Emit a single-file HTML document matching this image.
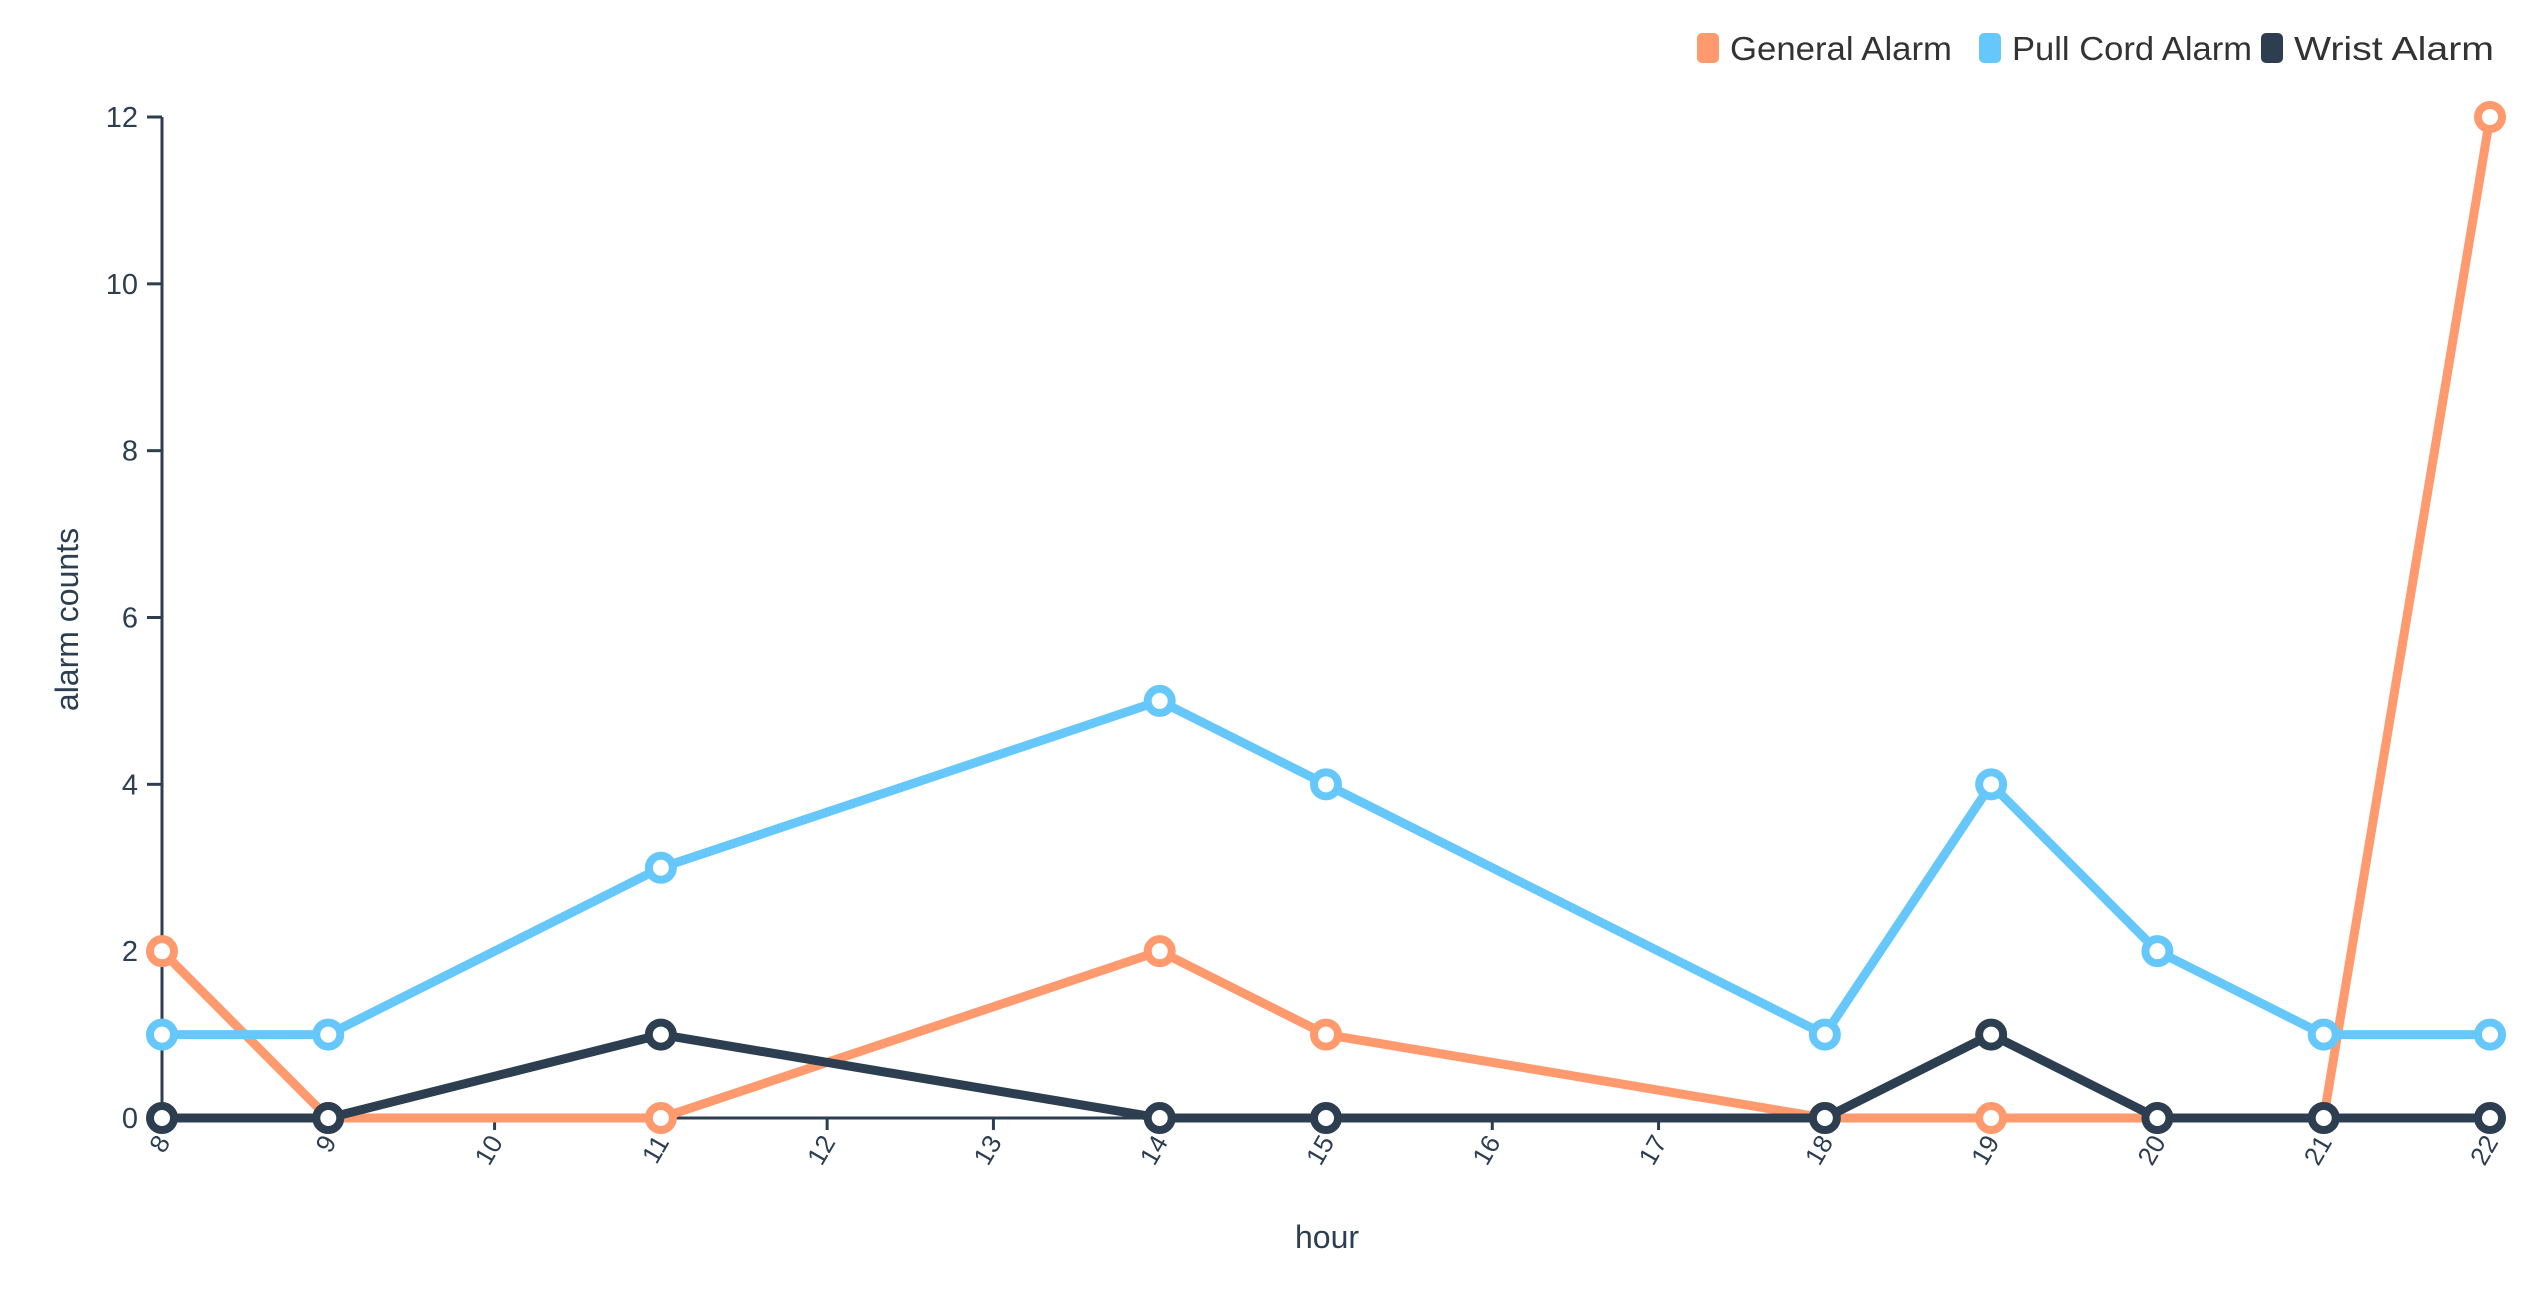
<!DOCTYPE html>
<html><head><meta charset="utf-8"><style>
html,body{margin:0;padding:0;background:#fff;}
svg{display:block;font-family:"Liberation Sans",sans-serif;}
</style></head><body>
<svg id="chart" width="2540" height="1300">
<g id="legend"></g>
<g id="axes"></g>
<g id="series"></g>
</svg>
<script>
const hours = [8, 9, 11, 14, 15, 18, 19, 20, 21, 22];
const generalAlarm = [2, 0, 0, 2, 1, 0, 0, 0, 0, 12];
const pullCordAlarm = [1, 1, 3, 5, 4, 1, 4, 2, 1, 1];
const wristAlarm = [0, 0, 1, 0, 0, 0, 1, 0, 0, 0];
const xTicks = [8,9,10,11,12,13,14,15,16,17,18,19,20,21,22];
const yTicks = [0,2,4,6,8,10,12];
const seriesNames = ["General Alarm", "Pull Cord Alarm", "Wrist Alarm"];

const NS = "http://www.w3.org/2000/svg";
const X0 = 162, X1 = 2490, Y0 = 1118, Y1 = 117;
const xScale = h => X0 + (h - 8) / (22 - 8) * (X1 - X0);
const yScale = v => Y0 - v / 12 * (Y0 - Y1);
const AX = "#2c3e50";
function mk(tag, attrs, parent){const e=document.createElementNS(NS,tag);for(const k in attrs)e.setAttribute(k,attrs[k]);parent.appendChild(e);return e;}
const axes = document.getElementById('axes');
let el = mk('line',{x1:X0,y1:Y1,x2:X0,y2:Y0,stroke:AX,'stroke-width':3},axes);


el = mk('line',{x1:X0,y1:Y0,x2:X1,y2:Y0,stroke:AX,'stroke-width':3},axes);


yTicks.forEach(v=>{
  const y=yScale(v);
  const t=mk('line',{x1:X0-15,y1:y,x2:X0,y2:y,stroke:AX,'stroke-width':3},axes);
  
  
  const l=mk('text',{x:X0-24,y:y+10,'text-anchor':'end','font-size':29,fill:AX},axes);
  l.textContent=v;
  
  
});
xTicks.forEach(h=>{
  const x=xScale(h);
  const t=mk('line',{x1:x,y1:Y0,x2:x,y2:Y0+12,stroke:AX,'stroke-width':3},axes);
  
  
  const l=mk('text',{x:0,y:0,'text-anchor':'end','font-size':26,fill:AX,transform:`translate(${x+9},${Y0+24}) rotate(-60)`},axes);
  l.textContent=h;
  
  
});
el = mk('text',{x:0,y:0,'text-anchor':'middle','font-size':32,fill:AX,transform:`translate(78,${(Y0+Y1)/2+2}) rotate(-90)`},axes);
el.textContent='alarm counts';


el = mk('text',{x:1327,y:1248,'text-anchor':'middle','font-size':32,fill:AX},axes);
el.textContent='hour';



const colors=["#ff9a6e","#66c7fb","#2c3e50"];
const data=[generalAlarm,pullCordAlarm,wristAlarm];
const sg=document.getElementById('series');
data.forEach((vals,i)=>{
  const g=mk('g',{},sg);
  
  
  const pts=hours.map((h,j)=>xScale(h)+','+yScale(vals[j])).join(' ');
  const pl=mk('polyline',{points:pts,fill:'none',stroke:colors[i],'stroke-width':9,'stroke-linejoin':'round'},g);
  
  
  hours.forEach((h,j)=>{
    const c=mk('circle',{cx:xScale(h),cy:yScale(vals[j]),r:12,fill:'#fff',stroke:colors[i],'stroke-width':8},g);
    
    
  });
});

const lg=document.getElementById('legend');
const legX=[1697,1979,2261];
const legW=[222,240,200];
seriesNames.forEach((n,i)=>{
  const g=mk('g',{},lg);
  
  
  mk('rect',{x:legX[i],y:33,width:22,height:30,rx:5,fill:colors[i]},g);
  const t=mk('text',{x:legX[i]+33,y:60,'font-size':33,fill:'#333',textLength:legW[i],lengthAdjust:'spacingAndGlyphs'},g);
  t.textContent=n;
});
</script>
</body></html>
